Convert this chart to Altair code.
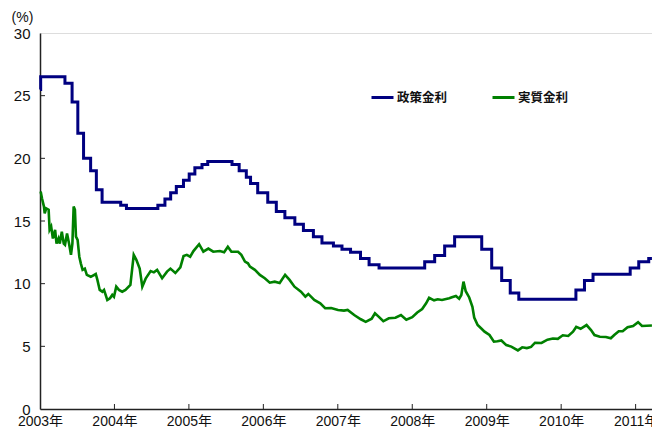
import altair as alt
import pandas as pd

# Policy rate (政策金利): step changes, x in (displayed) fractional years
policy_x = [2003.000, 2003.009, 2003.335, 2003.431, 2003.508, 2003.585, 2003.680, 2003.757, 2003.834,
            2004.084, 2004.161, 2004.583, 2004.678, 2004.755, 2004.831, 2004.927,
            2005.004, 2005.080, 2005.176, 2005.253, 2005.579, 2005.675, 2005.771, 2005.828, 2005.924,
            2006.059, 2006.174, 2006.289, 2006.423, 2006.538, 2006.672, 2006.787, 2006.941,
            2007.056, 2007.171, 2007.305, 2007.420, 2007.554,
            2008.167, 2008.301, 2008.435, 2008.569, 2008.933,
            2009.067, 2009.201, 2009.316, 2009.431,
            2010.198, 2010.313, 2010.428, 2010.927,
            2011.042, 2011.176, 2011.219]
policy_v = [25.5, 26.5, 26.0, 24.5, 22.0, 20.0, 19.0, 17.5, 16.5,
            16.25, 16.0, 16.25, 16.75, 17.25, 17.75, 18.25,
            18.75, 19.25, 19.5, 19.75, 19.5, 19.0, 18.5, 18.0, 17.25,
            16.5, 15.75, 15.25, 14.75, 14.25, 13.75, 13.25, 13.0,
            12.75, 12.5, 12.0, 11.5, 11.25,
            11.75, 12.25, 13.0, 13.75, 12.75,
            11.25, 10.25, 9.25, 8.75,
            9.5, 10.25, 10.75, 11.25,
            11.75, 12.0, 12.0]

# Real rate (実質金利)
real_x = [2003.009, 2003.027, 2003.053, 2003.063, 2003.084, 2003.116, 2003.129, 2003.150, 2003.173,
          2003.203, 2003.222, 2003.249, 2003.266, 2003.293, 2003.319, 2003.336, 2003.363, 2003.390,
          2003.416, 2003.435, 2003.452, 2003.469, 2003.483, 2003.505, 2003.528, 2003.549, 2003.572,
          2003.602, 2003.629, 2003.682, 2003.749, 2003.771, 2003.802, 2003.838, 2003.860, 2003.904,
          2003.940, 2003.971, 2003.993,
          2004.024, 2004.060, 2004.104, 2004.148, 2004.214, 2004.259, 2004.294, 2004.339, 2004.374,
          2004.419, 2004.486, 2004.529, 2004.573, 2004.640, 2004.706, 2004.752, 2004.818, 2004.885,
          2004.928, 2004.972,
          2005.017, 2005.061, 2005.137, 2005.194, 2005.261, 2005.327, 2005.416, 2005.473, 2005.523,
          2005.571, 2005.660, 2005.704, 2005.753, 2005.793, 2005.820, 2005.886, 2005.953,
          2006.019, 2006.086, 2006.152, 2006.219, 2006.292, 2006.352, 2006.418, 2006.505, 2006.564,
          2006.604, 2006.684, 2006.764, 2006.830, 2006.910,
          2007.003, 2007.083, 2007.132, 2007.220, 2007.309, 2007.375, 2007.455, 2007.499, 2007.548,
          2007.611, 2007.685, 2007.774, 2007.848, 2007.920,
          2008.000, 2008.067, 2008.133, 2008.186, 2008.226, 2008.293, 2008.342, 2008.399, 2008.497,
          2008.533, 2008.586, 2008.630, 2008.659, 2008.688, 2008.718, 2008.765, 2008.808, 2008.832,
          2008.878, 2008.931, 2008.971,
          2009.037, 2009.097, 2009.144, 2009.197, 2009.263, 2009.330, 2009.419, 2009.477, 2009.539,
          2009.596, 2009.649, 2009.736, 2009.816, 2009.889, 2009.955,
          2010.022, 2010.095, 2010.159, 2010.202, 2010.261, 2010.341, 2010.401, 2010.447, 2010.520,
          2010.600, 2010.667, 2010.713, 2010.773, 2010.826, 2010.892, 2010.966,
          2011.033, 2011.086, 2011.219]
real_v = [17.35, 16.8, 16.15, 15.6, 16.0, 15.9, 14.3, 14.55, 13.6,
          14.3, 13.2, 13.6, 13.2, 14.15, 13.2, 13.1, 14.0, 13.2,
          12.3, 13.2, 16.15, 15.9, 13.75, 13.5, 12.15, 11.6, 11.1,
          11.2, 10.7, 10.55, 10.77, 10.3, 9.5, 9.36, 9.5, 8.7,
          8.83, 9.1, 8.96,
          9.76, 9.5, 9.36, 9.5, 9.9, 12.3, 11.9, 11.2, 9.76,
          10.4, 11.0, 10.9, 11.1, 10.43, 10.96, 11.2, 10.85, 11.3,
          12.2, 12.3,
          12.15, 12.6, 13.15, 12.55, 12.8, 12.55, 12.6, 12.5, 12.95,
          12.55, 12.55, 12.3, 11.76, 11.63, 11.36, 11.1, 10.7,
          10.43, 10.08, 10.16, 10.05, 10.7, 10.3, 9.76, 9.36, 8.96,
          9.18, 8.7, 8.43, 8.04, 8.06,
          7.9, 7.85, 7.9, 7.5, 7.16, 6.95, 7.2, 7.64, 7.37,
          7.0, 7.24, 7.28, 7.5, 7.12,
          7.32, 7.7, 7.97, 8.43, 8.87, 8.67, 8.75, 8.7, 8.83,
          8.91, 9.02, 8.8, 9.1, 10.16, 9.4, 8.9, 8.16, 7.3,
          6.7, 6.4, 6.17,
          5.9, 5.37, 5.4, 5.47, 5.1, 4.98, 4.68, 4.92, 4.86,
          4.95, 5.29, 5.27, 5.53, 5.62, 5.6,
          5.88, 5.83, 6.17, 6.55, 6.4, 6.7, 6.3, 5.9, 5.77,
          5.75, 5.64, 5.9, 6.2, 6.2, 6.52, 6.62,
          6.93, 6.62, 6.66]

series_names = ["政策金利", "実質金利"]
series_colors = ["#000080", "#008000"]
year_ticks = [2003, 2004, 2005, 2006, 2007, 2008, 2009, 2010, 2011]
y_ticks = [0, 5, 10, 15, 20, 25, 30]

policy_df = pd.DataFrame({"year": policy_x, "value": policy_v, "series": series_names[0]})
real_df = pd.DataFrame({"year": real_x, "value": real_v, "series": series_names[1]})
xtick_df = pd.DataFrame({"year": year_ticks[1:]})
ytick_df = pd.DataFrame({"value": y_ticks[1:-1]})

NUM_FONT = "Liberation Sans, Noto Sans CJK JP"
CJK_FONT = "Noto Sans CJK JP"

W, H = 612, 376

xscale = alt.Scale(domain=[2003, 2011.22], nice=False, zero=False)
yscale = alt.Scale(domain=[0, 30], nice=False)

color = alt.Color(
    "series:N",
    scale=alt.Scale(domain=series_names, range=series_colors),
    legend=alt.Legend(
        orient="none", legendX=330, legendY=52, direction="horizontal", title=None,
        symbolType="stroke", symbolSize=484, symbolStrokeWidth=3,
        labelFont=CJK_FONT, labelFontSize=12.5, labelFontWeight="bold", labelColor="#111",
        columnPadding=38, labelOffset=2, padding=0,
    ),
)

xaxis = alt.Axis(
    values=year_ticks, labelExpr="datum.value + '年'", ticks=False, grid=False,
    domainColor="#222", domainWidth=1.5, labelFont=NUM_FONT, labelFontSize=14,
    labelColor="#111", labelPadding=5, labelFlush=False, labelOverlap=False,
    labelBound=False, title=None,
)
yaxis = alt.Axis(
    values=y_ticks, ticks=False, grid=False, domainColor="#222", domainWidth=1.5,
    labelFont=NUM_FONT, labelFontSize=15, labelColor="#111", labelPadding=10,
    labelFlush=False, labelOverlap=False,
    title="(%)", titleAngle=0, titleX=-18, titleY=-16, titleAlign="center",
    titleBaseline="middle", titleFont=NUM_FONT, titleFontSize=14, titleFontWeight="normal",
    titleColor="#111",
)

policy = alt.Chart(policy_df).mark_line(interpolate="step-after", strokeWidth=3).encode(
    x=alt.X("year:Q", scale=xscale, axis=xaxis),
    y=alt.Y("value:Q", scale=yscale, axis=yaxis),
    color=color,
)
real = alt.Chart(real_df).mark_line(strokeWidth=2.6).encode(
    x=alt.X("year:Q", scale=xscale),
    y=alt.Y("value:Q", scale=yscale),
    color=color,
)
xticks = alt.Chart(xtick_df).mark_rule(color="#222", strokeWidth=1).encode(
    x=alt.X("year:Q", scale=xscale), y=alt.value(H), y2=alt.value(H - 5)
)
yticks = alt.Chart(ytick_df).mark_rule(color="#222", strokeWidth=1).encode(
    y=alt.Y("value:Q", scale=yscale), x=alt.value(0), x2=alt.value(5)
)

chart = alt.layer(xticks, yticks, real, policy).properties(
    width=W, height=H,
    autosize=alt.AutoSizeParams(type="none"),
    padding={"left": 32, "top": 25, "right": 0, "bottom": 18},
).configure_view(stroke="#222", strokeWidth=1).configure(background="white")

chart.save("out.html", embed_options={"renderer": "svg", "actions": False})
